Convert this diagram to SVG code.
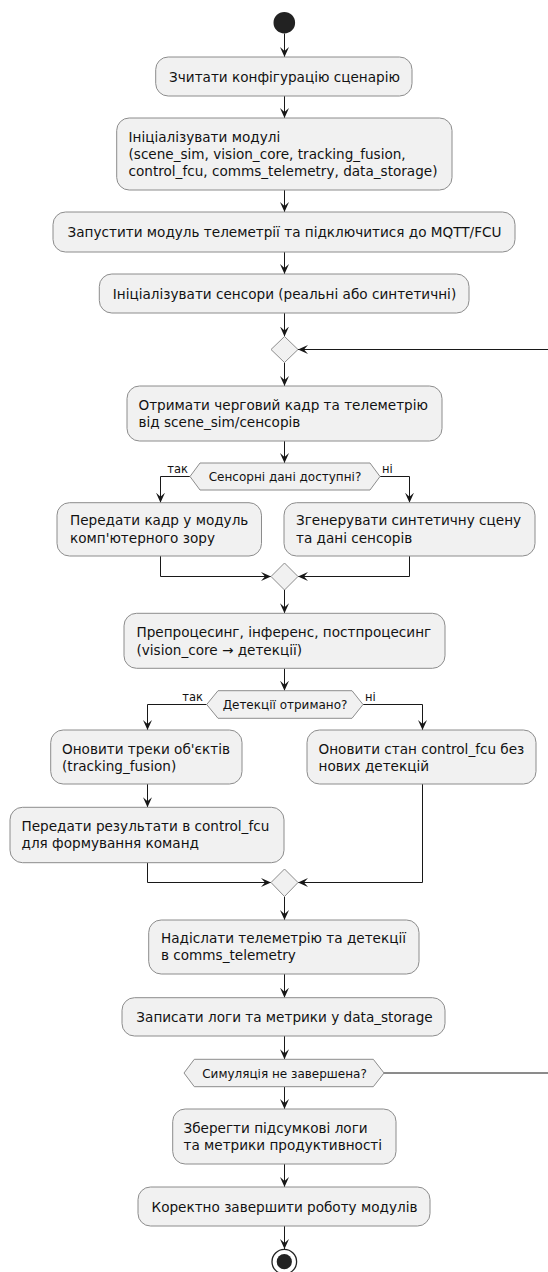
<svg xmlns="http://www.w3.org/2000/svg" width="548" height="1272" viewBox="0 0 548 1272">
  <style>
    .box { fill: #F1F1F1; stroke: #8c8c8c; stroke-width: 1; }
    .t { font-family: "DejaVu Sans", "Liberation Sans", sans-serif; font-size: 13.6px; fill: #111; }
    .c { text-anchor: middle; }
    .h { font-family: "DejaVu Sans", "Liberation Sans", sans-serif; font-size: 12px; fill: #111; text-anchor: middle; }
    .lbl { font-family: "DejaVu Sans", "Liberation Sans", sans-serif; font-size: 11.5px; fill: #111; }
    .flow { fill: none; stroke: #181818; stroke-width: 1; }
  </style>
  <defs>
    <marker id="arrow" markerUnits="userSpaceOnUse" viewBox="0 0 10 9" refX="10" refY="4.5" markerWidth="10" markerHeight="9" orient="auto">
      <path d="M0,0 L10,4.5 L0,9 L4,4.5 Z" fill="#181818"/>
    </marker>
  </defs>
  <rect width="548" height="1272" fill="#ffffff"/>

  <!-- connectors -->
  <g id="connectors" class="flow">
    <path d="M284.5,33.5 V57" marker-end="url(#arrow)"/>
    <path d="M284.5,96 V118" marker-end="url(#arrow)"/>
    <path d="M284.5,190 V212" marker-end="url(#arrow)"/>
    <path d="M284.5,252 V274" marker-end="url(#arrow)"/>
    <path d="M284.5,313 V336.5" marker-end="url(#arrow)"/>
    <path d="M560,349.5 H298" marker-end="url(#arrow)"/>
    <path d="M284.5,362.5 V386" marker-end="url(#arrow)"/>
    <path d="M284.5,441 V463" marker-end="url(#arrow)"/>
    <path d="M190,476.5 H160.5 V502.7" marker-end="url(#arrow)"/>
    <path d="M380,476.5 H409.5 V502.7" marker-end="url(#arrow)"/>
    <path d="M160.5,556 V576.5 H271" marker-end="url(#arrow)"/>
    <path d="M409.5,556 V576.5 H298" marker-end="url(#arrow)"/>
    <path d="M284.5,590 V613.3" marker-end="url(#arrow)"/>
    <path d="M284.5,668.3 V690.7" marker-end="url(#arrow)"/>
    <path d="M206.7,704.5 H147.5 V730" marker-end="url(#arrow)"/>
    <path d="M363,704.5 H422.5 V730" marker-end="url(#arrow)"/>
    <path d="M147.5,784 V807.3" marker-end="url(#arrow)"/>
    <path d="M147.5,862.7 V882.5 H271" marker-end="url(#arrow)"/>
    <path d="M422.5,784 V882.5 H298" marker-end="url(#arrow)"/>
    <path d="M284.5,896.5 V920" marker-end="url(#arrow)"/>
    <path d="M284.5,974 V997.7" marker-end="url(#arrow)"/>
    <path d="M284.5,1036 V1059.3" marker-end="url(#arrow)"/>
    <path d="M384,1073 H560"/>
    <path d="M284.5,1087 V1109" marker-end="url(#arrow)"/>
    <path d="M284.5,1164 V1187" marker-end="url(#arrow)"/>
    <path d="M284.5,1226 V1249" marker-end="url(#arrow)"/>
  </g>

  <g id="start">
    <circle cx="284.3" cy="22.7" r="10.8" fill="#222222"/>
  </g>

  <g id="read-config">
    <rect class="box" x="155.7" y="57" width="256.3" height="39" rx="12.5"/>
    <text class="t c" x="284.5" y="81.5">Зчитати конфігурацію сценарію</text>
  </g>

  <g id="init-modules">
    <rect class="box" x="116.7" y="118" width="335.3" height="72" rx="12.5"/>
    <text class="t" x="128.5" y="141.5">Ініціалізувати модулі</text>
    <text class="t" x="128.5" y="158.5">(scene_sim, vision_core, tracking_fusion,</text>
    <text class="t" x="128.5" y="175.5">control_fcu, comms_telemetry, data_storage)</text>
  </g>

  <g id="start-telemetry">
    <rect class="box" x="53" y="212" width="462" height="40" rx="12.5"/>
    <text class="t c" x="284.5" y="237">Запустити модуль телеметрії та підключитися до MQTT/FCU</text>
  </g>

  <g id="init-sensors">
    <rect class="box" x="99.3" y="274" width="369.7" height="39" rx="12.5"/>
    <text class="t c" x="284.5" y="298.5">Ініціалізувати сенсори (реальні або синтетичні)</text>
  </g>

  <g id="loop-merge">
    <polygon class="box" points="284.5,336.5 298,349.5 284.5,362.5 271,349.5"/>
  </g>

  <g id="get-frame">
    <rect class="box" x="127" y="386" width="315" height="55" rx="12.5"/>
    <text class="t" x="138.5" y="409.5">Отримати черговий кадр та телеметрію</text>
    <text class="t" x="138.5" y="426.5">від scene_sim/сенсорів</text>
  </g>

  <g id="sensor-check">
    <polygon class="box" points="190,476.5 200,463 370,463 380,476.5 370,490 200,490"/>
    <text class="h" x="285" y="481">Сенсорні дані доступні?</text>
    <text class="lbl" x="188" y="472.5" text-anchor="end">так</text>
    <text class="lbl" x="382" y="472.5">ні</text>
  </g>

  <g id="pass-frame">
    <rect class="box" x="57" y="502.7" width="204.5" height="53.3" rx="12.5"/>
    <text class="t" x="70" y="525">Передати кадр у модуль</text>
    <text class="t" x="70" y="542.5">комп'ютерного зору</text>
  </g>

  <g id="gen-synthetic">
    <rect class="box" x="284" y="502.7" width="251" height="53.3" rx="12.5"/>
    <text class="t" x="296" y="525">Згенерувати синтетичну сцену</text>
    <text class="t" x="296" y="542.5">та дані сенсорів</text>
  </g>

  <g id="sensor-merge">
    <polygon class="box" points="284.5,563 298,576.5 284.5,590 271,576.5"/>
  </g>

  <g id="inference">
    <rect class="box" x="124" y="613.3" width="321" height="55" rx="12.5"/>
    <text class="t" x="136.5" y="637.3">Препроцесинг, інференс, постпроцесинг</text>
    <text class="t" x="136.5" y="655">(vision_core → детекції)</text>
  </g>

  <g id="detect-check">
    <polygon class="box" points="206.7,704.5 218,690.7 352,690.7 363,704.5 352,718.3 218,718.3"/>
    <text class="h" x="285" y="709">Детекції отримано?</text>
    <text class="lbl" x="203" y="700.5" text-anchor="end">так</text>
    <text class="lbl" x="365" y="700.5">ні</text>
  </g>

  <g id="update-tracks">
    <rect class="box" x="50.7" y="730" width="191.3" height="54" rx="12.5"/>
    <text class="t" x="62" y="753.5">Оновити треки об'єктів</text>
    <text class="t" x="62" y="770.5">(tracking_fusion)</text>
  </g>

  <g id="update-fcu-state">
    <rect class="box" x="307" y="730" width="229" height="54" rx="12.5"/>
    <text class="t" x="318.5" y="753.5">Оновити стан control_fcu без</text>
    <text class="t" x="318.5" y="770.5">нових детекцій</text>
  </g>

  <g id="send-to-fcu">
    <rect class="box" x="10" y="807.3" width="274" height="55.4" rx="12.5"/>
    <text class="t" x="21.5" y="830.7">Передати результати в control_fcu</text>
    <text class="t" x="21.5" y="847.5">для формування команд</text>
  </g>

  <g id="detect-merge">
    <polygon class="box" points="284.5,869 298,882.5 284.5,896.5 271,882.5"/>
  </g>

  <g id="send-telemetry">
    <rect class="box" x="148.7" y="920" width="270.3" height="54" rx="12.5"/>
    <text class="t" x="161" y="942.7">Надіслати телеметрію та детекції</text>
    <text class="t" x="161" y="959.5">в comms_telemetry</text>
  </g>

  <g id="write-logs">
    <rect class="box" x="122" y="997.7" width="323" height="38.3" rx="12.5"/>
    <text class="t c" x="284.5" y="1021.8">Записати логи та метрики у data_storage</text>
  </g>

  <g id="sim-check">
    <polygon class="box" points="184,1073 194.3,1059.3 373.3,1059.3 384,1073 373.3,1086.7 194.3,1086.7"/>
    <text class="h" x="284.5" y="1077.5">Симуляція не завершена?</text>
  </g>

  <g id="save-summary">
    <rect class="box" x="172.7" y="1109" width="223.3" height="55" rx="12.5"/>
    <text class="t" x="183.5" y="1132.8">Зберегти підсумкові логи</text>
    <text class="t" x="183.5" y="1149.5">та метрики продуктивності</text>
  </g>

  <g id="shutdown">
    <rect class="box" x="138" y="1187" width="292" height="39" rx="12.5"/>
    <text class="t c" x="284.5" y="1211.5">Коректно завершити роботу модулів</text>
  </g>

  <g id="end">
    <circle cx="284.3" cy="1261.7" r="12.3" fill="none" stroke="#222222" stroke-width="1.3"/>
    <circle cx="284.3" cy="1261.7" r="7.6" fill="#222222"/>
  </g>
</svg>
